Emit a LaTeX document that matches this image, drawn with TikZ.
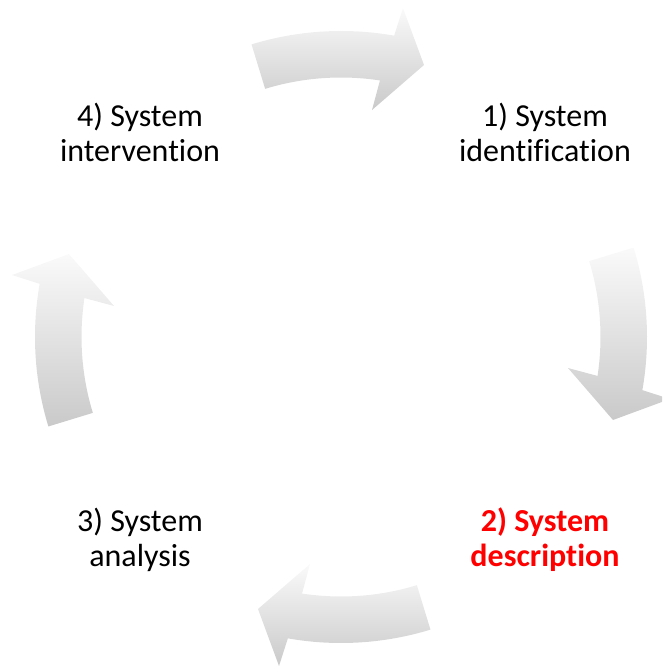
\documentclass[tikz,border=0pt]{standalone}
\usepackage{fontspec}
\setmainfont[Ligatures=NoCommon]{Carlito}
\begin{document}
\begin{tikzpicture}[x=0.75pt,y=0.75pt,
  cyclearrow/.style={top color=gray!4, bottom color=gray!42, draw=none},
  steplabel/.style={align=center, anchor=base, inner sep=0pt,
    font=\fontsize{24}{26.25}\selectfont},
  activelabel/.style={steplabel, text=red, font=\fontsize{24}{26.25}\selectfont\bfseries}]
  \useasboundingbox (0,0) rectangle (662,668);
  \clip (0,0) rectangle (662,668);
  % four curved arrows on a common circle, one per quarter
  \begin{scope}[shift={(341,331)}]
    \foreach \t in {0,-90,-180,-270}{
      \path[cyclearrow]
        (107+\t:306) arc[start angle=107+\t, end angle=80+\t, radius=306]
        -- (79.33+\t:334.8) -- (73.03+\t:284.4) -- (82.22+\t:229.1)
        -- (81.37+\t:259.5)
        arc[start angle=81.37+\t, end angle=107+\t, radius=259.5] -- cycle;
    }
  \end{scope}
  % step labels (base anchor sits on the second line)
  \node[steplabel] (s1) at (545,506) {1) System\\identification};
  \node[activelabel] (s2) at (545,101) {2) System\\description};
  \node[steplabel] (s3) at (140,101) {3) System\\analysis};
  \node[steplabel] (s4) at (140,506) {4) System\\intervention};
\end{tikzpicture}
\end{document}
